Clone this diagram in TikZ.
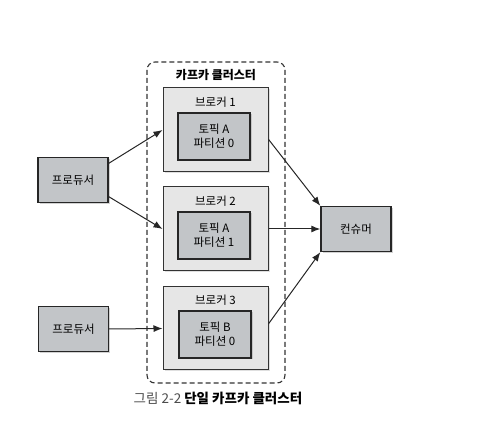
\documentclass[tikz,border=0pt]{standalone}
\usepackage{fontspec}
\setmainfont{Noto Sans CJK KR}
\usepackage{tikz}
\usetikzlibrary{arrows.meta,shadows}

\definecolor{boxgray}{HTML}{C2C5C8}
\definecolor{brokergray}{HTML}{E6E6E6}

\begin{document}
\begin{tikzpicture}[x=1pt,y=-1pt,font=\fontsize{11.5}{14}\selectfont,
    shade box/.style={draw=black!85,fill=boxgray,line width=1.4pt,
      drop shadow={shadow xshift=1.5pt,shadow yshift=-1.5pt,fill=black!35}},
    broker/.style={draw=black!80,fill=brokergray,line width=1pt,minimum width=105pt,minimum height=84pt,
      drop shadow={shadow xshift=1.5pt,shadow yshift=-1.5pt,fill=black!25}},
    topic/.style={shade box,minimum width=72pt,minimum height=47pt,align=center,inner sep=0pt},
    client/.style={shade box,minimum width=70pt,minimum height=45pt},
    flow/.style={-{Latex[length=9pt,width=7pt]},line width=1pt,black!85}]
    \useasboundingbox (0,0) rectangle (493,435);
    \draw[dashed,line width=1.1pt,black!80,dash pattern=on 5pt off 3pt,rounded corners=8pt] (147,62) rectangle (285,383);
    \node[font=\fontsize{12}{14}\selectfont\bfseries] (title) at (216,75) {카프카 클러스터};
    \node[broker] (b1) at (215.5,130) {};
    \node[broker] (b2) at (215.5,229) {};
    \node[broker,minimum height=83pt] (b3) at (215.5,328.5) {};
    \node (l1) at (215.5,102) {브로커 1};
    \node (l2) at (215.5,201) {브로커 2};
    \node (l3) at (215.5,300.5) {브로커 3};
    \node[topic] (t1) at (214,136.5) {토픽 A\\파티션 0};
    \node[topic] (t2) at (214,235.5) {토픽 A\\파티션 1};
    \node[topic] (t3) at (215,334.5) {토픽 B\\파티션 0};
    \node[client] (p1) at (73,180) {프로듀서};
    \node[client] (p2) at (73.5,329) {프로듀서};
    \node[client] (c) at (356,229) {컨슈머};
    \draw[flow] (p1.25) -- (b1.west);
    \draw[flow] (p1.-25) -- (b2.west);
    \draw[flow] (p2.east) -- (b3.west);
    \draw[flow] (b1.-10) -- (c.north west);
    \draw[flow] (b2.east) -- (c.west);
    \draw[flow] (b3.5) -- (c.south west);
    \node[font=\fontsize{13.5}{16}\selectfont] (cap) at (218,398) {\textcolor{black!70}{그림 2-2} \textbf{단일 카프카 클러스터}};
\end{tikzpicture}
\end{document}
